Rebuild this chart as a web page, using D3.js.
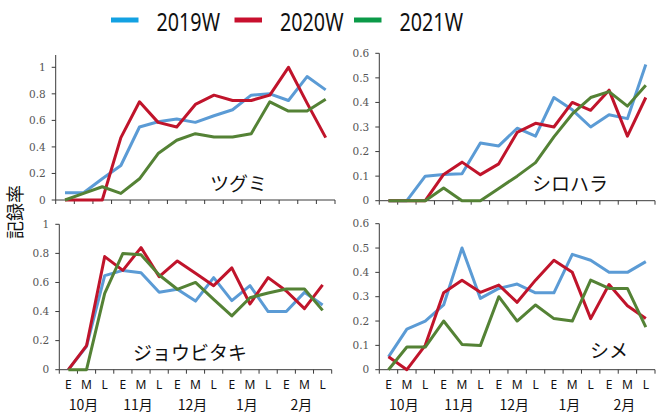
<!DOCTYPE html>
<html>
<head>
<meta charset="utf-8">
<script src="https://cdn.jsdelivr.net/npm/d3@7"></script>
<style>
  body { margin: 0; background: #fff; }
  svg { display: block; }
</style>
</head>
<body>
<div id="chart"></div>
<script>
var periods = ["E","M","L","E","M","L","E","M","L","E","M","L","E","M","L"];
var months = ["10月","11月","12月","1月","2月"];
var seriesNames = ["2019W","2020W","2021W"];

// ツグミ
var tsugumi2019 = [0.055,0.055,0.16,0.26,0.55,0.59,0.61,0.585,0.635,0.68,0.79,0.80,0.75,0.93,0.83];
var tsugumi2020 = [0,0,0,0.47,0.74,0.585,0.55,0.72,0.79,0.75,0.75,0.79,1.0,0.73,0.47];
var tsugumi2021 = [0,0.05,0.10,0.05,0.16,0.35,0.45,0.50,0.475,0.475,0.50,0.74,0.67,0.67,0.76];
// シロハラ
var shirohara2019 = [0,0,0.10,0.107,0.11,0.235,0.223,0.295,0.263,0.42,0.37,0.30,0.35,0.334,0.554];
var shirohara2020 = [0,0,0,0.107,0.157,0.106,0.15,0.278,0.315,0.30,0.40,0.368,0.45,0.263,0.42];
var shirohara2021 = [0,0,0,0.052,0,0,0.05,0.10,0.155,0.26,0.353,0.42,0.444,0.385,0.47];
// ジョウビタキ
var joubitaki2019 = [0,0.16,0.647,0.683,0.667,0.532,0.553,0.472,0.633,0.475,0.578,0.40,0.40,0.532,0.445];
var joubitaki2020 = [0,0.165,0.778,0.683,0.84,0.64,0.748,0.663,0.578,0.70,0.452,0.633,0.541,0.42,0.583];
var joubitaki2021 = [0,0,0.525,0.80,0.79,0.651,0.553,0.60,0.484,0.37,0.495,0.528,0.555,0.555,0.408];
// シメ
var shime2019 = [0.053,0.167,0.20,0.266,0.50,0.293,0.334,0.352,0.316,0.316,0.474,0.45,0.40,0.40,0.444];
var shime2020 = [0.053,0,0.10,0.316,0.368,0.318,0.348,0.277,0.368,0.45,0.40,0.21,0.35,0.263,0.21];
var shime2021 = [0,0.093,0.093,0.20,0.104,0.099,0.30,0.20,0.266,0.21,0.20,0.368,0.334,0.334,0.175];

var species = ["ツグミ","シロハラ","ジョウビタキ","シメ"];
var speciesData = [
  [tsugumi2019, tsugumi2020, tsugumi2021],
  [shirohara2019, shirohara2020, shirohara2021],
  [joubitaki2019, joubitaki2020, joubitaki2021],
  [shime2019, shime2020, shime2021]
];
var yMaxes = [1, 0.6, 1, 0.6];
var yTickStep = [0.2, 0.1, 0.2, 0.1];

var lineColors = ["#5b9bd5", "#c0142b", "#548235"];
var legendColors = ["#13a1e2", "#c8102e", "#0b9a48"];

// panel layout: left, right, bottom (y=0), y of max tick, top of axis line
var panels = [
  {l: 55.7, r: 335, b: 200, t: 67.3, top: 55, labelX: 210, labelY: 191, xLabels: false},
  {l: 379.3, r: 655, b: 200.7, t: 53.3, top: 53.3, labelX: 532, labelY: 191, xLabels: false},
  {l: 59.3, r: 331.7, b: 369.7, t: 224.3, top: 224.3, labelX: 133, labelY: 360, xLabels: true},
  {l: 379.3, r: 655, b: 369.7, t: 223.7, top: 223.7, labelX: 590, labelY: 358, xLabels: true}
];

var svg = d3.select("#chart")
    .append("svg")
    .attr("width", 656)
    .attr("height", 414);

var axisColor = "#3a3a3a";

panels.forEach(function(p, k) {
  var x = d3.scaleBand()
      .domain(d3.range(periods.length))
      .range([p.l, p.r]);

  var y = d3.scaleLinear()
      .domain([0, yMaxes[k]])
      .range([p.b, p.t]);

  var ticks = d3.range(0, yMaxes[k] + 1e-9, yTickStep[k]);

  // y axis
  var g = svg.append("g");
  g.append("line")
      .attr("x1", p.l).attr("x2", p.l)
      .attr("y1", p.b).attr("y2", p.top)
      .attr("stroke", axisColor).attr("stroke-width", 1);
  g.selectAll(".ytick")
      .data(ticks)
      .enter().append("line")
      .attr("x1", p.l - 4).attr("x2", p.l)
      .attr("y1", function(d) { return y(d); })
      .attr("y2", function(d) { return y(d); })
      .attr("stroke", axisColor);
  g.selectAll(".ylab")
      .data(ticks)
      .enter().append("text")
      .attr("x", p.l - 10)
      .attr("y", function(d) { return y(d); })
      .attr("dy", "0.35em")
      .attr("text-anchor", "end")
      .attr("font-family", "'DejaVu Serif', 'Liberation Serif', serif")
      .attr("font-size", 10.5)
      .attr("fill", "#555")
      .text(function(d) { return d3.format("~g")(+d.toFixed(2)); });

  // x axis
  g.append("line")
      .attr("x1", p.l).attr("x2", p.r)
      .attr("y1", p.b).attr("y2", p.b)
      .attr("stroke", axisColor);
  var bounds = d3.range(periods.length + 1);
  g.selectAll(".xtick")
      .data(bounds)
      .enter().append("line")
      .attr("x1", function(i) { return i < periods.length ? x(i) : p.r; })
      .attr("x2", function(i) { return i < periods.length ? x(i) : p.r; })
      .attr("y1", p.b).attr("y2", p.b + 4)
      .attr("stroke", axisColor);

  if (p.xLabels) {
    g.selectAll(".xlab")
        .data(periods)
        .enter().append("text")
        .attr("x", function(d, i) { return x(i) + x.bandwidth() / 2; })
        .attr("y", p.b + 19.5)
        .attr("text-anchor", "middle")
        .attr("font-family", "'Noto Sans', sans-serif")
        .attr("font-size", 12)
        .attr("fill", "#111")
        .text(function(d) { return d; });
    g.selectAll(".mlab")
        .data(months)
        .enter().append("text")
        .attr("x", function(d, i) { return x(i * 3 + 1) + x.bandwidth() / 2 - 3; })
        .attr("y", p.b + 40.5)
        .attr("text-anchor", "middle")
        .attr("font-family", "'Noto Sans CJK JP', sans-serif")
        .attr("font-size", 14)
        .attr("fill", "#111")
        .text(function(d) { return d; });
  }

  // lines
  var line = d3.line()
      .x(function(d, i) { return x(i) + x.bandwidth() / 2; })
      .y(function(d) { return y(d); });

  speciesData[k].forEach(function(vals, s) {
    svg.append("path")
        .datum(vals)
        .attr("d", line)
        .attr("fill", "none")
        .attr("stroke", lineColors[s])
        .attr("stroke-width", 3)
        .attr("stroke-linejoin", "round");
  });

  svg.append("text")
      .attr("x", p.labelX)
      .attr("y", p.labelY)
      .attr("font-family", "'Noto Sans CJK JP', sans-serif")
      .attr("font-size", 19)
      .attr("fill", "#111")
      .text(species[k]);
});

// legend
var legendX = [111, 234.5, 354];
var legend = svg.selectAll(".legend")
    .data(seriesNames)
    .enter().append("g");
legend.append("line")
    .attr("x1", function(d, i) { return legendX[i]; })
    .attr("x2", function(d, i) { return legendX[i] + 27.5; })
    .attr("y1", 20).attr("y2", 20)
    .attr("stroke", function(d, i) { return legendColors[i]; })
    .attr("stroke-width", 5);
legend.append("text")
    .attr("x", function(d, i) { return legendX[i] + 45.5; })
    .attr("y", 30.5)
    .attr("font-family", "'Liberation Sans Narrow', 'Noto Sans', sans-serif")
    .attr("font-size", 26)
    .attr("textLength", 63.5)
    .attr("lengthAdjust", "spacingAndGlyphs")
    .attr("fill", "#111")
    .text(function(d) { return d; });

// y title
svg.append("text")
    .attr("transform", "translate(22,212) rotate(-90)")
    .attr("text-anchor", "middle")
    .attr("font-family", "'Noto Sans CJK JP', sans-serif")
    .attr("font-size", 18)
    .attr("fill", "#111")
    .text("記録率");
</script>
</body>
</html>
